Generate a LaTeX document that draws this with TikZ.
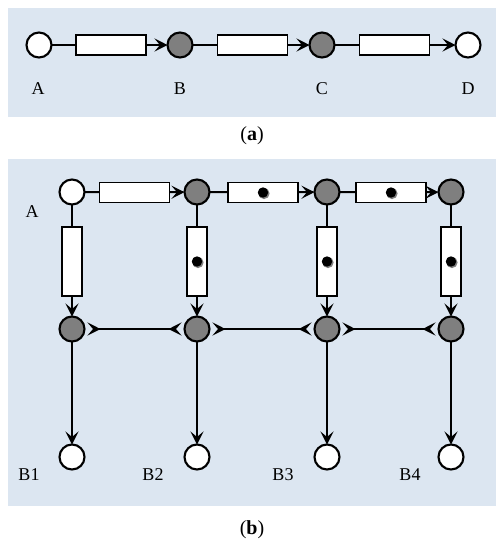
\documentclass[tikz,border=0pt]{standalone}
\usepackage{fontspec}
\setmainfont{Liberation Serif}
\usetikzlibrary{arrows.meta}
\definecolor{panelbg}{HTML}{DCE6F1}
\definecolor{darknode}{HTML}{7F7F7F}
\begin{document}
\begin{tikzpicture}[x=1pt,y=-1pt,
  every node/.style={inner sep=0pt,outer sep=0pt},
  whitenode/.style={circle,draw=black,line width=2.1pt,fill=white,minimum size=25pt},
  graynode/.style={circle,draw=black,line width=2.1pt,fill=darknode,minimum size=25pt},
  hbox/.style={rectangle,draw=black,line width=1.9pt,fill=white,minimum width=70pt,minimum height=20pt},
  vbox/.style={rectangle,draw=black,line width=1.9pt,fill=white,minimum width=20pt,minimum height=69pt},
  dotted box/.style={path picture={\fill[black!50] ([xshift=1pt,yshift=-1pt]path picture bounding box.center) circle (5.6pt);
                                   \fill[black] (path picture bounding box.center) circle (5.2pt);}},
  conn/.style={line width=2pt,draw=black},
  arr/.style={conn,-{Stealth[length=13pt,width=13pt,inset=5.5pt]}},
  twoway/.style={conn,{Stealth[length=13pt,width=13pt,inset=5.5pt,reversed]}-{Stealth[length=13pt,width=13pt,inset=5.5pt,reversed]},shorten <=3pt,shorten >=3pt},
  lab/.style={font=\fontsize{18}{20}\selectfont},
  captext/.style={font=\fontsize{20}{22}\selectfont}
]
\useasboundingbox (0,0) rectangle (504,550);
\fill[white] (0,0) rectangle (504,550);
\fill[panelbg] (8,8) rectangle (496,117);
\fill[panelbg] (8,159) rectangle (496,506);

% ---------- panel (a)
\node[whitenode] (nA) at (39,45) {};
\node[graynode]  (nB) at (180,45) {};
\node[graynode]  (nC) at (322,45) {};
\node[whitenode] (nD) at (468,45) {};
\node[hbox] (rA1) at (111,45) {};
\node[hbox] (rA2) at (252.5,45) {};
\node[hbox] (rA3) at (394.5,45) {};
\draw[conn] (nA) -- (rA1);
\draw[arr] (rA1) -- (nB);
\draw[conn] (nB) -- (rA2);
\draw[arr] (rA2) -- (nC);
\draw[conn] (nC) -- (rA3);
\draw[arr] (rA3) -- (nD);
\node[lab] (lA) at (38,89) {A};
\node[lab] (lB) at (180,89) {B};
\node[lab] (lC) at (322,89) {C};
\node[lab] (lD) at (468,89) {D};
\node[captext] (capa) at (252,136) {(\textbf{a})};

% ---------- panel (b)
\node[whitenode] (t1) at (72,192) {};
\node[graynode]  (t2) at (197,192) {};
\node[graynode]  (t3) at (327,192) {};
\node[graynode]  (t4) at (451,192) {};
\node[hbox] (h1) at (134.5,192.5) {};
\node[hbox,dotted box] (h2) at (263,192.5) {};
\node[hbox,dotted box] (h3) at (391,192.5) {};
\node[vbox] (v1) at (72,261.5) {};
\node[vbox,dotted box] (v2) at (197,261.5) {};
\node[vbox,dotted box] (v3) at (327,261.5) {};
\node[vbox,dotted box] (v4) at (451,261.5) {};
\node[graynode] (m1) at (72,329) {};
\node[graynode] (m2) at (197,329) {};
\node[graynode] (m3) at (327,329) {};
\node[graynode] (m4) at (451,329) {};
\node[whitenode] (b1) at (72,457) {};
\node[whitenode] (b2) at (197,457) {};
\node[whitenode] (b3) at (327,457) {};
\node[whitenode] (b4) at (451,457) {};

\draw[conn] (t1) -- (h1);
\draw[arr] (h1) -- (t2);
\draw[conn] (t2) -- (h2);
\draw[arr] (h2) -- (t3);
\draw[conn] (t3) -- (h3);
\draw[arr] (h3) -- (t4);
\foreach \i in {1,2,3,4}{
  \draw[conn] (t\i) -- (v\i);
  \draw[arr] (v\i) -- (m\i);
  \draw[arr] (m\i) -- (b\i);
}
\draw[twoway] (m1) -- (m2);
\draw[twoway] (m2) -- (m3);
\draw[twoway] (m3) -- (m4);

\node[lab] (lAb) at (32,212) {A};
\node[lab] (lB1) at (29,475) {B1};
\node[lab] (lB2) at (153,475) {B2};
\node[lab] (lB3) at (283,475) {B3};
\node[lab] (lB4) at (410,475) {B4};
\node[captext] (capb) at (252,530) {(\textbf{b})};
\end{tikzpicture}
\end{document}
